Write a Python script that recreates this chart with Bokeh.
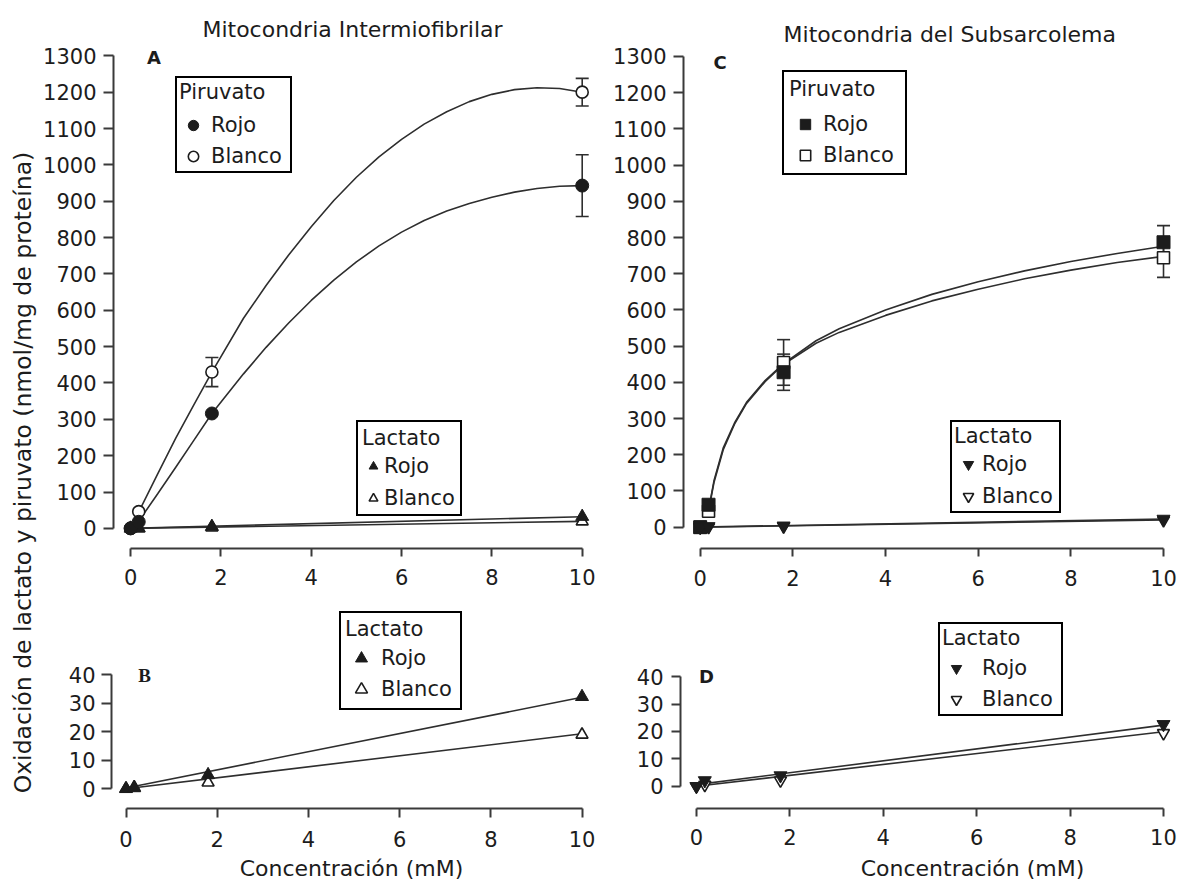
import math
from bokeh.plotting import figure
from bokeh.models import (Range1d, FixedTicker, Legend, LegendItem, Label,
                          Whisker, TeeHead, ColumnDataSource)
from bokeh.layouts import row, column
from bokeh.embed import file_html
from bokeh.resources import INLINE

# ---------------- data ----------------
conc = [0, 0.18, 1.8, 10]
x_ticks = [0, 2, 4, 6, 8, 10]
y_ticks_big = [0, 100, 200, 300, 400, 500, 600, 700, 800, 900, 1000, 1100, 1200, 1300]
y_ticks_small = [0, 10, 20, 30, 40]

# Mitocondria Intermiofibrilar (A, B)
pir_rojo_if = [0, 18, 316, 943]
pir_rojo_if_err = [0, 0, 0, 85]
pir_blanco_if = [0, 46, 430, 1200]
pir_blanco_if_err = [0, 0, 40, 38]
lac_rojo_if = [0, 0.3, 4.9, 32.3]
lac_blanco_if = [0, 0.5, 2.2, 19.0]

curve_x_if = [0.18, 0.6, 1, 1.4, 1.8, 2.5, 3, 3.5, 4, 4.5, 5, 5.5, 6, 6.5, 7, 7.5, 8, 8.5, 9, 9.5, 10]
curve_blanco_if = [45, 150, 248, 340, 430, 578, 668, 752, 830, 902, 966, 1022, 1070, 1112, 1146, 1174,
                   1194, 1207, 1212, 1210, 1200]
curve_rojo_if = [20, 95, 168, 242, 316, 425, 498, 565, 627, 683, 733, 777, 815, 847, 873, 894,
                 911, 925, 935, 941, 943]
lac_fit_x = [0, 10]
lac_fit_rojo_if = [0.3, 32.1]
lac_fit_blanco_if = [0, 19.3]

# Mitocondria del Subsarcolema (C, D)
pir_rojo_ss = [0, 62, 428, 787]
pir_rojo_ss_err = [0, 0, 50, 46]
pir_blanco_ss = [0, 44, 455, 744]
pir_blanco_ss_err = [0, 0, 63, 54]
lac_rojo_ss = [0, 2.1, 3.9, 22.6]
lac_blanco_ss = [0, 0.5, 2.1, 19.4]

curve_x_ss = [0.18, 0.3, 0.5, 0.75, 1, 1.4, 1.8, 2.5, 3, 4, 5, 6, 7, 8, 9, 10]
curve_rojo_ss = [48, 130, 220, 290, 345, 405, 452, 515, 548, 600, 643, 678, 708, 734, 756, 776]
curve_blanco_ss = [44, 125, 215, 287, 342, 402, 450, 508, 538, 585, 625, 657, 686, 710, 731, 748]
lac_fit_rojo_ss = [0.6, 22.3]
lac_fit_blanco_ss = [0, 19.9]

# ---------------- styling helpers ----------------
FONT = "DejaVu Sans"
INK = "#1c1c1c"
LINE = "#2e2e2e"


def make_fig(w, h, xr, yr, ml, mr, mt, mb):
    p = figure(width=w, height=h, x_range=Range1d(*xr), y_range=Range1d(*yr),
               output_backend="svg", toolbar_location=None,
               min_border_left=ml, min_border_right=mr,
               min_border_top=mt, min_border_bottom=mb)
    p.grid.visible = False
    p.outline_line_color = None
    p.background_fill_color = "white"
    p.border_fill_color = "white"
    return p


def style_axis(ax, ticks, bounds, tick_out, standoff):
    ax.ticker = FixedTicker(ticks=ticks, minor_ticks=[])
    ax.bounds = bounds
    ax.major_tick_out = tick_out
    ax.major_tick_in = 0
    ax.minor_tick_out = 0
    ax.minor_tick_in = 0
    ax.major_label_standoff = standoff
    ax.axis_line_width = 2
    ax.axis_line_color = "#3a3a3a"
    ax.major_tick_line_width = 2
    ax.major_tick_line_color = "#3a3a3a"
    ax.major_label_text_font = FONT
    ax.major_label_text_font_size = "21px"
    ax.major_label_text_color = INK


def add_errors(p, xs, ys, errs):
    bx = [x for x, e in zip(xs, errs) if e > 0]
    up = [y + e for y, e in zip(ys, errs) if e > 0]
    lo = [y - e for y, e in zip(ys, errs) if e > 0]
    src = ColumnDataSource(dict(base=bx, upper=up, lower=lo))
    wk = Whisker(base="base", upper="upper", lower="lower", source=src, dimension="height",
                 line_color=LINE, line_width=1.6,
                 upper_head=TeeHead(size=13, line_color=LINE, line_width=1.6),
                 lower_head=TeeHead(size=13, line_color=LINE, line_width=1.6))
    p.add_layout(wk)


def add_legend(p, title, items, loc, pad, gw, rh, st, ts, sp, lw):
    lg = Legend(items=[LegendItem(label=lab, renderers=[r]) for lab, r in items],
                title=title, location=loc, padding=pad, spacing=sp, margin=0,
                glyph_width=gw, glyph_height=rh, label_height=rh, label_width=lw,
                label_standoff=st, title_standoff=ts,
                label_text_font=FONT, label_text_font_size="21px", label_text_color=INK,
                title_text_font=FONT, title_text_font_size="21px", title_text_font_style="normal",
                title_text_color=INK,
                border_line_color="black", border_line_width=2, border_line_alpha=1.0,
                background_fill_color="white", background_fill_alpha=1.0)
    p.add_layout(lg)


def text_label(p, x, y, txt, size, style="normal", font=FONT):
    p.add_layout(Label(x=x, y=y, text=txt, text_font=font, text_font_size=size,
                       text_font_style=style, text_color=INK,
                       text_align="center", text_baseline="middle"))


def filled(p, xs, ys, marker, size=13):
    return p.scatter(xs, ys, marker=marker, size=size, fill_color=INK, line_color=INK, line_width=1)


def hollow(p, xs, ys, marker, size=12):
    return p.scatter(xs, ys, marker=marker, size=size, fill_color="white", line_color=INK,
                     line_width=1.6)


# ---------------- panel A ----------------
pA = make_fig(565, 598, (-0.3787, 10.2059), (-55.44, 1441.2), 73, 14, 4, 46)
style_axis(pA.xaxis[0], x_ticks, (0, 10), 8, 12)
style_axis(pA.yaxis[0], y_ticks_big, (0, 1300), 10, 7)
pA.line(curve_x_if, curve_blanco_if, line_color=LINE, line_width=1.6)
pA.line(curve_x_if, curve_rojo_if, line_color=LINE, line_width=1.6)
pA.line(lac_fit_x, lac_fit_rojo_if, line_color=LINE, line_width=1.6)
pA.line(lac_fit_x, lac_fit_blanco_if, line_color=LINE, line_width=1.6)
add_errors(pA, conc, pir_blanco_if, pir_blanco_if_err)
add_errors(pA, conc, pir_rojo_if, pir_rojo_if_err)
rA_lb = hollow(pA, conc, lac_blanco_if, "triangle")
rA_lr = filled(pA, conc, lac_rojo_if, "triangle")
rA_pb = hollow(pA, conc, pir_blanco_if, "circle")
rA_pr = filled(pA, conc, pir_rojo_if, "circle")
add_legend(pA, "Piruvato", [("Rojo", rA_pr), ("Blanco", rA_pb)], (62, 375), 2, 28, 26, 4, 8, 5, 77)
add_legend(pA, "Lactato", [("Rojo", rA_lr), ("Blanco", rA_lb)], (243, 32), 4, 22, 24, 0, 4, 8, 72)
text_label(pA, 4.914, 1372.9, "Mitocondria Intermiofibrilar", "22px")
text_label(pA, 0.52, 1296.5, "A", "18px", "bold")

# ---------------- panel B ----------------
pB = make_fig(565, 257, (-0.318, 10.208), (-6.91, 65.37), 71, 14, 4, 47)
style_axis(pB.xaxis[0], x_ticks, (0, 10), 9, 13)
style_axis(pB.yaxis[0], y_ticks_small, (0, 40), 10, 6)
pB.line(lac_fit_x, lac_fit_rojo_if, line_color=LINE, line_width=1.6)
pB.line(lac_fit_x, lac_fit_blanco_if, line_color=LINE, line_width=1.6)
rB_lb = hollow(pB, conc, lac_blanco_if, "triangle")
rB_lr = filled(pB, conc, lac_rojo_if, "triangle")
add_legend(pB, "Lactato", [("Rojo", rB_lr), ("Blanco", rB_lb)], (228, 98), 4, 32, 30, 4, 2, 1, 75)
text_label(pB, 0.406, 39.75, "B", "19px", "bold", "Liberation Serif")

# ---------------- panel C ----------------
pC = make_fig(575, 598, (-0.3605, 10.194), (-58.83, 1443.6), 78, 8, 4, 50)
style_axis(pC.xaxis[0], x_ticks, (0, 10), 8, 13)
style_axis(pC.yaxis[0], y_ticks_big, (0, 1300), 10, 7)
pC.line(curve_x_ss, curve_rojo_ss, line_color=LINE, line_width=1.6)
pC.line(curve_x_ss, curve_blanco_ss, line_color=LINE, line_width=1.6)
pC.line(lac_fit_x, lac_fit_rojo_ss, line_color=LINE, line_width=1.6)
pC.line(lac_fit_x, lac_fit_blanco_ss, line_color=LINE, line_width=1.6)
add_errors(pC, conc, pir_blanco_ss, pir_blanco_ss_err)
add_errors(pC, conc, pir_rojo_ss, pir_rojo_ss_err)
rC_pb = hollow(pC, conc, pir_blanco_ss, "square")
rC_pr = filled(pC, conc, pir_rojo_ss, "square")
rC_lb = hollow(pC, conc, lac_blanco_ss, "inverted_triangle")
rC_lr = filled(pC, conc, lac_rojo_ss, "inverted_triangle")
add_legend(pC, "Piruvato", [("Rojo", rC_pr), ("Blanco", rC_pb)], (99, 373), 5, 32, 26, 2, 10, 5, 77)
add_legend(pC, "Lactato", [("Rojo", rC_lr), ("Blanco", rC_lb)], (267, 35), 2, 28, 26, 0, 3, 6, 75)
text_label(pC, 5.387, 1360.8, "Mitocondria del Subsarcolema", "22px")
text_label(pC, 0.427, 1283.4, "C", "18px", "bold")

# ---------------- panel D ----------------
pD = make_fig(575, 257, (-0.3404, 10.193), (-8.119, 67.07), 75, 8, 2, 44)
style_axis(pD.xaxis[0], x_ticks, (0, 10), 8, 12)
style_axis(pD.yaxis[0], y_ticks_small, (0, 40), 9, 8)
pD.line(lac_fit_x, lac_fit_rojo_ss, line_color=LINE, line_width=1.6)
pD.line(lac_fit_x, lac_fit_blanco_ss, line_color=LINE, line_width=1.6)
rD_lb = hollow(pD, conc, lac_blanco_ss, "inverted_triangle")
rD_lr = filled(pD, conc, lac_rojo_ss, "inverted_triangle")
add_legend(pD, "Lactato", [("Rojo", rD_lr), ("Blanco", rD_lb)], (258, 92), 2, 28, 26, 12, 5, 5, 77)
text_label(pD, 0.216, 39.9, "D", "18px", "bold")

# ---------------- x-axis titles strip ----------------
pX = figure(width=1140, height=25, x_range=Range1d(0, 1140), y_range=Range1d(0, 25),
            output_backend="svg", toolbar_location=None, x_axis_type=None, y_axis_type=None,
            min_border_left=0, min_border_right=0, min_border_top=0, min_border_bottom=0)
pX.grid.visible = False
pX.outline_line_color = None
text_label(pX, 311, 12, "Concentración (mM)", "22px")
text_label(pX, 932, 12, "Concentración (mM)", "22px")

# ---------------- shared y label ----------------
pY = figure(width=40, height=880, x_range=Range1d(0, 40), y_range=Range1d(0, 880),
            output_backend="svg", toolbar_location=None, x_axis_type=None, y_axis_type=None,
            min_border_left=0, min_border_right=0, min_border_top=0, min_border_bottom=0)
pY.grid.visible = False
pY.outline_line_color = None
pY.add_layout(Label(x=22, y=408, text="Oxidación de lactato y piruvato (nmol/mg de proteína)",
                    angle=math.pi / 2, text_font=FONT, text_font_size="23.5px", text_color=INK,
                    text_align="center", text_baseline="middle"))

layout = row(pY, column(row(pA, pC), row(pB, pD), pX))
open("out.html", "w").write(file_html(layout, INLINE))
